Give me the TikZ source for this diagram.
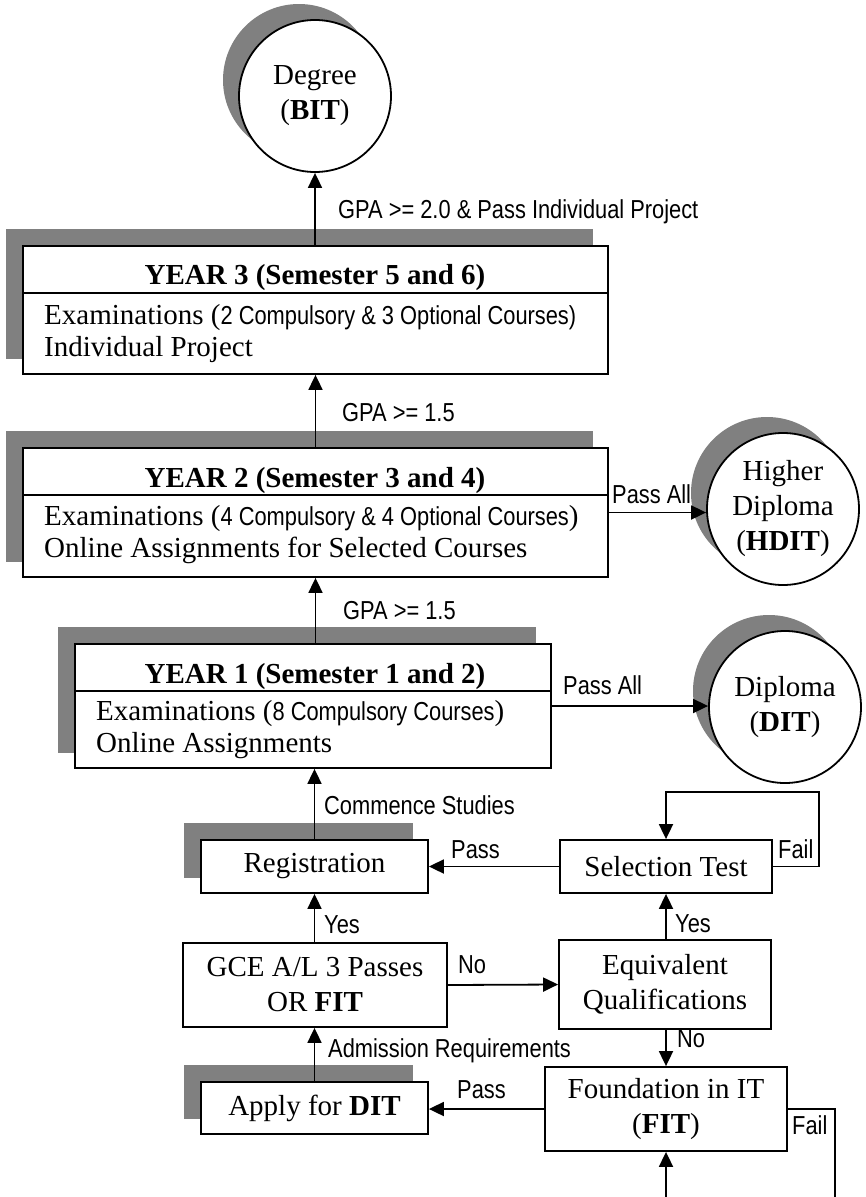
\documentclass[tikz,border=0pt]{standalone}
\usepackage{fontspec}
\setmainfont{Liberation Serif}
\newfontfamily\narrowsans[FakeStretch=0.84]{Liberation Sans}
\usetikzlibrary{arrows.meta,backgrounds}
\definecolor{shadowc}{RGB}{128,128,128}
\newcommand\serifsz{\fontsize{29}{35}\selectfont}
\newcommand\lblsz{\narrowsans\fontsize{26}{31}\selectfont}
\newcommand\inboxsans{\narrowsans\fontsize{26}{31}\selectfont}
\begin{document}
\begin{tikzpicture}[x=1pt,y=-1pt,
  box/.style={draw,line width=1.8pt,fill=white,rectangle,inner sep=0pt,align=center,font=\serifsz},
  yearbox/.style={draw,line width=1.8pt,fill=white,rectangle,inner sep=0pt},
  circ/.style={circle,draw,line width=1.8pt,fill=white,minimum size=152pt,inner sep=0pt,align=center,font=\serifsz},
  txt/.style={inner sep=0pt,font=\serifsz},
  lbl/.style={anchor=base west,inner sep=0pt,font=\lblsz},
  con/.style={line width=1.8pt},
  arr/.style={con,-{Triangle[length=15pt,width=14pt]}}]
\useasboundingbox (0,0) rectangle (866,1197);

% circles
\node[circ] (deg) at (315,96) {Degree\\(\textbf{BIT})};
\node[circ] (hdit) at (783,509) {Higher\\Diploma\\(\textbf{HDIT})};
\node[circ] (dit) at (785,707) {Diploma\\(\textbf{DIT})};

% year boxes
\node[yearbox,minimum width=585pt,minimum height=128pt] (y3) at (315.5,310) {};
\node[yearbox,minimum width=585pt,minimum height=129pt] (y2) at (315.5,512.5) {};
\node[yearbox,minimum width=476pt,minimum height=124pt] (y1) at (313,706) {};
\draw[con] ([yshift=-48pt]y3.north west) -- ([yshift=-48pt]y3.north east);
\draw[con] ([yshift=-48pt]y2.north west) -- ([yshift=-48pt]y2.north east);
\draw[con] ([yshift=-48pt]y1.north west) -- ([yshift=-48pt]y1.north east);

\node[txt,anchor=base] (y3t) at (315,284) {\textbf{YEAR 3 (Semester 5 and 6)}};
\node[txt,anchor=base west] (y3a) at (44,324) {Examinations ({\inboxsans 2 Compulsory \& 3 Optional Courses)}};
\node[txt,anchor=base west] (y3b) at (44,356) {Individual Project};

\node[txt,anchor=base] (y2t) at (315,487) {\textbf{YEAR 2 (Semester 3 and 4)}};
\node[txt,anchor=base west] (y2a) at (44,525) {Examinations ({\inboxsans 4 Compulsory \& 4 Optional Courses})};
\node[txt,anchor=base west] (y2b) at (44,557) {Online Assignments for Selected Courses};

\node[txt,anchor=base] (y1t) at (315,683) {\textbf{YEAR 1 (Semester 1 and 2)}};
\node[txt,anchor=base west] (y1a) at (96,720) {Examinations ({\inboxsans 8 Compulsory Courses})};
\node[txt,anchor=base west] (y1b) at (96,752) {Online Assignments};

% lower boxes
\node[box,minimum width=227pt,minimum height=53pt] (reg) at (314.5,866.5) {Registration};
\node[box,minimum width=212pt,minimum height=53pt] (sel) at (666,866.5) {Selection Test};
\node[box,minimum width=264pt,minimum height=84pt] (gce) at (315,985) {GCE A/L 3 Passes\\OR \textbf{FIT}};
\node[box,minimum width=212pt,minimum height=89pt] (eq) at (665,984.5) {Equivalent\\Qualifications};
\node[box,minimum width=242pt,minimum height=84pt] (fit) at (666,1109) {Foundation in IT\\(\textbf{FIT})};
\node[box,minimum width=227pt,minimum height=52pt] (app) at (314.5,1108) {Apply for \textbf{DIT}};

\coordinate (selloop) at (819,792);
\coordinate (fitfail) at (835,1197);
\coordinate (fitin) at (666,1197);

% connectors
\draw[arr] (y3.north -| deg.south) -- (deg.south);
\draw[arr] (y2.north) -- (y2.north |- y3.south);
\draw[arr] (y2.south |- y1.north) -- (y2.south);
\draw[arr] (y2.east) -- (y2.east -| hdit.west);
\draw[arr] (y1.east) -- (y1.east -| dit.west);
\draw[arr] (reg.north) -- (reg.north |- y1.south);
\draw[arr] (sel.west) -- (reg.east);
\draw[arr] (sel.east) -| (selloop) -| (sel.north);
\draw[arr] (eq.north -| sel.south) -- (sel.south);
\draw[arr] (gce.north -| reg.south) -- (reg.south);
\draw[arr] (gce.east) -- (eq.west);
\draw[arr] (eq.south -| fit.north) -- (fit.north);
\draw[arr] (fit.west) -- (fit.west -| app.east);
\draw[arr] (app.north) -- (app.north |- gce.south);
\draw[con] (fit.east) -| (fitfail);
\draw[arr] (fitin) -- (fit.south);

% labels
\node[lbl] (l1) at (338,218) {GPA >= 2.0 \& Pass Individual Project};
\node[lbl] (l2) at (342,421) {GPA >= 1.5};
\node[lbl] (l3) at (343,619) {GPA >= 1.5};
\node[lbl] (l4) at (612,503) {Pass All};
\node[lbl] (l5) at (563,694) {Pass All};
\node[lbl] (l6) at (324,814) {Commence Studies};
\node[lbl] (l7) at (451,858) {Pass};
\node[lbl] (l8) at (778,858) {Fail};
\node[lbl] (l9) at (324,933) {Yes};
\node[lbl] (l10) at (675,932) {Yes};
\node[lbl] (l11) at (458,973) {No};
\node[lbl] (l12) at (677,1047) {No};
\node[lbl] (l13) at (328,1057) {Admission Requirements};
\node[lbl] (l14) at (457,1098) {Pass};
\node[lbl] (l15) at (792,1134) {Fail};

\begin{scope}[on background layer]
\fill[white] (0,0) rectangle (866,1197);
\foreach \nm in {y3,y2,y1,reg,app}
  \fill[shadowc] ([xshift=-16pt,yshift=16pt]\nm.south west) rectangle ([xshift=-16pt,yshift=16pt]\nm.north east);
\foreach \nm in {deg,hdit,dit}
  \fill[shadowc] ([xshift=-16pt,yshift=16pt]\nm.center) circle[radius=76pt];
\end{scope}
\end{tikzpicture}
\end{document}
